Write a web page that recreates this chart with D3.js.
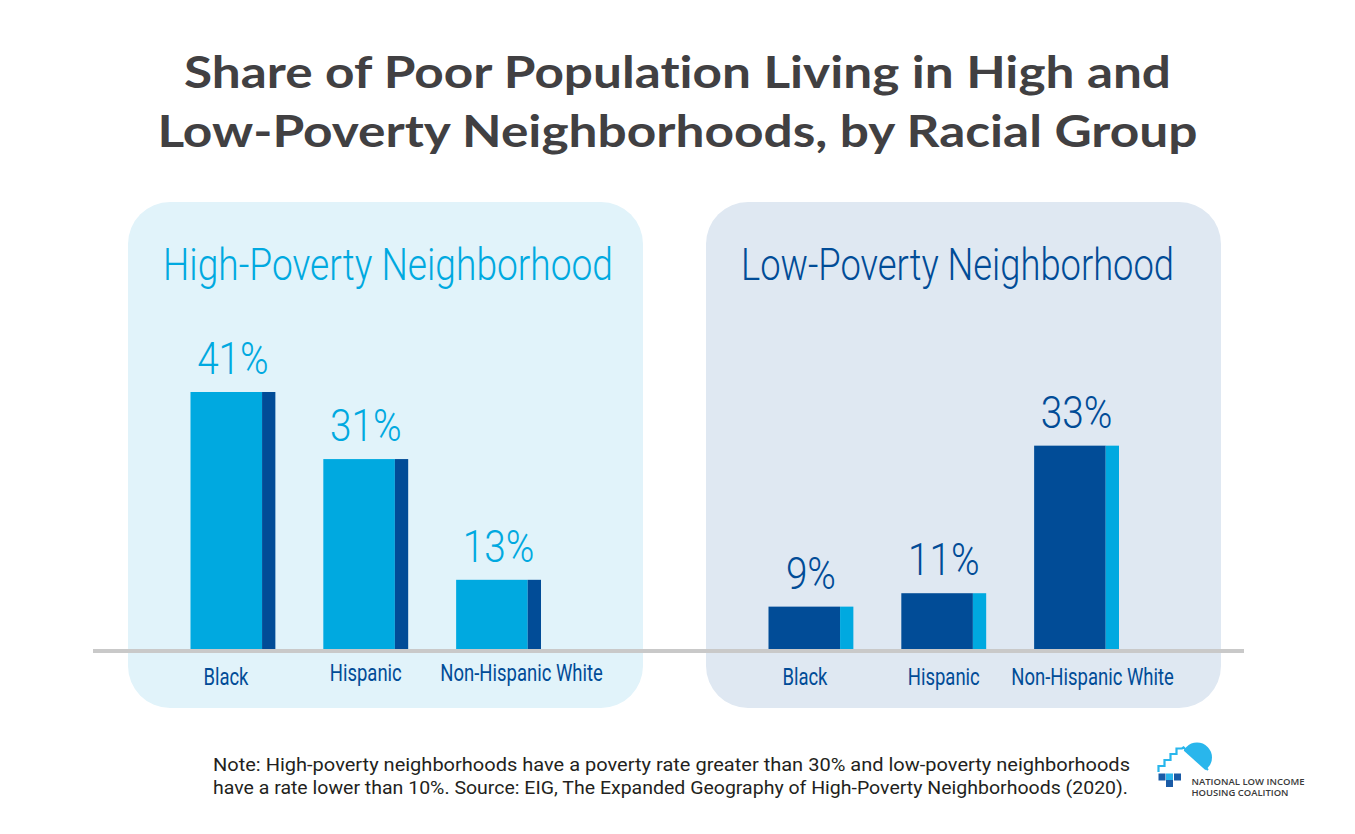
<!DOCTYPE html>
<html>
<head>
<meta charset="utf-8">
<script src="https://cdn.jsdelivr.net/npm/d3@7"></script>
<style>
  html, body { margin: 0; padding: 0; background: #fff; }
  svg { display: block; }
  .narrow { font-family: Roboto, "Liberation Sans", sans-serif; font-weight: 300; }
</style>
</head>
<body>
<div id="chart"></div>
<script>
(function () {
  "use strict";

  // data
  const categories = ["Black", "Hispanic", "Non-Hispanic White"];
  const highPoverty = [41, 31, 13];
  const lowPoverty = [9, 11, 33];
  const panelTitles = ["High-Poverty Neighborhood", "Low-Poverty Neighborhood"];
  const titleLines = [
    "Share of Poor Population Living in High and",
    "Low-Poverty Neighborhoods, by Racial Group"
  ];
  const noteLines = [
    "Note: High-poverty neighborhoods have a poverty rate greater than 30% and low-poverty neighborhoods",
    "have a rate lower than 10%. Source: EIG, The Expanded Geography of High-Poverty Neighborhoods (2020)."
  ];
  const logoLines = ["NATIONAL LOW INCOME", "HOUSING COALITION"];

  const light = "#00a9e0";
  const dark = "#014c97";

  const panels = [
    { title: panelTitles[0], values: highPoverty, x: 128, bg: "#e1f3fa", main: light, edge: dark, head: light, catDy: [0, -4, -4] },
    { title: panelTitles[1], values: lowPoverty, x: 706, bg: "#dfe8f2", main: dark, edge: light, head: dark, catDy: [0, 0, 0] }
  ];

  const width = 1355, height = 834;
  const panelTop = 202, panelHeight = 506, panelWidth = 515;
  const baseline = 649;
  const edgeWidth = 13.3;
  const catDx = [[-7, 0, 23], [-6, 0, 16]];

  // squeeze a text to a fraction of its natural width (the reference uses a condensed face)
  const condense = (k) => function () {
    this.setAttribute("textLength", this.getComputedTextLength() * k);
    this.setAttribute("lengthAdjust", "spacingAndGlyphs");
  };

  const svg = d3.select("#chart").append("svg")
    .attr("width", width)
    .attr("height", height)
    .attr("viewBox", [0, 0, width, height]);

  // title
  svg.append("g")
    .selectAll("text")
    .data(titleLines)
    .join("text")
    .attr("x", width / 2)
    .attr("y", (_, i) => 88 + i * 59)
    .attr("text-anchor", "middle")
    .attr("font-family", "Lato, 'Open Sans', sans-serif")
    .attr("font-weight", 700)
    .attr("font-size", 43)
    .attr("fill", "#414042")
    .style("font-variant-ligatures", "none")
    .attr("textLength", (_, i) => [987, 1040][i])
    .attr("lengthAdjust", "spacingAndGlyphs")
    .text((d) => d);

  // value scale: bars are cut off at the axis line
  const y = d3.scaleLinear().domain([0, 41]).range([667, 392]);

  const panelG = svg.selectAll("g.panel")
    .data(panels)
    .join("g")
    .attr("class", "panel");

  panelG.append("rect")
    .attr("x", (p) => p.x)
    .attr("y", panelTop)
    .attr("width", panelWidth)
    .attr("height", panelHeight)
    .attr("rx", 42)
    .attr("fill", (p) => p.bg);

  panelG.append("text")
    .attr("class", "narrow")
    .attr("x", (p) => p.x + 35)
    .attr("y", 280)
    .attr("font-size", 45)
    .attr("fill", (p) => p.head)
    .attr("textLength", (_, i) => [450, 433][i])
    .attr("lengthAdjust", "spacingAndGlyphs")
    .text((p) => p.title);

  // axis line across both panels
  svg.append("line")
    .attr("x1", 93)
    .attr("x2", 1244)
    .attr("y1", baseline + 2)
    .attr("y2", baseline + 2)
    .attr("stroke", "#c9c9c9")
    .attr("stroke-width", 4);

  panelG.each(function (p, pi) {
    const g = d3.select(this);
    const x = d3.scaleBand()
      .domain(categories)
      .range([p.x + 62.5, p.x + 413])
      .paddingInner(0.361)
      .paddingOuter(0);
    const rows = categories.map((c, i) => ({ category: c, value: p.values[i], i }));

    const bar = g.selectAll("g.bar")
      .data(rows)
      .join("g")
      .attr("class", "bar");

    bar.append("rect")
      .attr("x", (d) => x(d.category))
      .attr("y", (d) => y(d.value))
      .attr("width", x.bandwidth() - edgeWidth)
      .attr("height", (d) => baseline - y(d.value))
      .attr("fill", p.main);

    bar.append("rect")
      .attr("x", (d) => x(d.category) + x.bandwidth() - edgeWidth)
      .attr("y", (d) => y(d.value))
      .attr("width", edgeWidth)
      .attr("height", (d) => baseline - y(d.value))
      .attr("fill", p.edge);

    bar.append("text")
      .attr("class", "narrow")
      .attr("x", (d) => x(d.category) + x.bandwidth() / 2)
      .attr("y", (d) => y(d.value) - 18)
      .attr("text-anchor", "middle")
      .attr("font-size", 45)
      .attr("fill", p.head)
      .text((d) => d.value + "%")
      .each(condense(0.86));

    bar.append("text")
      .attr("class", "narrow")
      .attr("x", (d) => x(d.category) + x.bandwidth() / 2 + catDx[pi][d.i])
      .attr("y", (d) => 685 + p.catDy[d.i])
      .attr("text-anchor", "middle")
      .attr("font-size", 24)
      .style("font-weight", 400)
      .attr("fill", dark)
      .text((d) => d.category)
      .each(condense(0.77));
  });

  // footnote
  svg.append("g")
    .selectAll("text")
    .data(noteLines)
    .join("text")
    .attr("x", 213)
    .attr("y", (_, i) => 771 + i * 23)
    .attr("font-family", "Roboto, sans-serif")
    .attr("font-size", 18.5)
    .attr("fill", "#231f20")
    .attr("textLength", (_, i) => [917, 915][i])
    .attr("lengthAdjust", "spacingAndGlyphs")
    .text((d) => d);

  // logo
  const logo = svg.append("g").attr("transform", "translate(1150,730)");
  logo.append("circle").attr("cx", 47).attr("cy", 27.5).attr("r", 15).attr("fill", "#29b6ec");
  logo.append("path")
    .attr("d", "M33,20 L62,46 L4,46 L4,20 Z")
    .attr("fill", "#fff");
  logo.append("path")
    .attr("d", "M8.5,42 V36 H14.5 V30 H20.5 V24 H26.5 V18.5 H32 L33.5,17.5 L58,40")
    .attr("fill", "none")
    .attr("stroke", "#29b6ec")
    .attr("stroke-width", 2.2);
  const squares = [[8.5, 43.5, "#1a5ba6"], [16, 43.5, "#29b6ec"], [16, 50, "#1a5ba6"], [24, 43.5, "#1a5ba6"]];
  logo.selectAll("rect.sq")
    .data(squares)
    .join("rect")
    .attr("class", "sq")
    .attr("x", (d) => d[0])
    .attr("y", (d) => d[1])
    .attr("width", 7)
    .attr("height", 7)
    .attr("fill", (d) => d[2]);
  logo.selectAll("text")
    .data(logoLines)
    .join("text")
    .attr("x", 41.5)
    .attr("y", (_, i) => 55 + i * 11)
    .attr("font-family", "'Open Sans', 'DejaVu Sans', sans-serif")
    .attr("font-weight", 600)
    .attr("font-size", 9)
    .attr("fill", "#3a3a3a")
    .attr("textLength", (_, i) => [113, 97][i])
    .attr("lengthAdjust", "spacingAndGlyphs")
    .text((d) => d);
})();
</script>
</body>
</html>
